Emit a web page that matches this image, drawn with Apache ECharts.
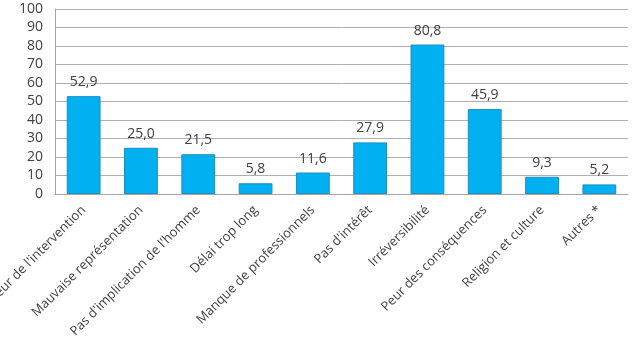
<!DOCTYPE html>
<html lang="fr">
<head>
<meta charset="UTF-8">
<title>Chart</title>
<style>
  * { margin: 0; }
  html, body, #chart { width: 641px; height: 340px; background: #fff; }
</style>
</head>
<body>
<div id="chart"></div>
<script src="https://cdn.jsdelivr.net/npm/echarts@6/dist/echarts.min.js"></script>
<script>
var categories = ["Peur de l'intervention", "Mauvaise représentation", "Pas d'implication de l'homme",
  "Délai trop long", "Manque de professionnels", "Pas d'intérêt", "Irréversibilité",
  "Peur des conséquences", "Religion et culture", "Autres *"];
var values = [52.9, 25.0, 21.5, 5.8, 11.6, 27.9, 80.8, 45.9, 9.3, 5.2];

var chart = echarts.init(document.getElementById('chart'));
var font = 'Open Sans';
var option = {
  animation: false,
  grid: { left: 55, right: 13, top: 9, bottom: 146, containLabel: false, outerBoundsMode: 'none' },
  xAxis: {
    type: 'category',
    data: categories,
    axisLine: { lineStyle: { color: '#a6a6a6' } },
    axisTick: { show: false },
    axisLabel: { interval: 0, rotate: 45, margin: 14, color: '#404040', fontFamily: font, fontSize: 13 }
  },
  yAxis: {
    type: 'value',
    min: 0, max: 100, interval: 10,
    axisLine: { show: true, lineStyle: { color: '#a6a6a6' } },
    axisTick: { show: false },
    splitLine: { lineStyle: { color: '#b0b0b0' } },
    axisLabel: { color: '#404040', fontFamily: font, fontSize: 14, margin: 12 }
  },
  series: [{
    type: 'bar',
    data: values,
    barWidth: '59%',
    itemStyle: { color: '#00b0f0', borderColor: '#1a8fc4', borderWidth: 1 },
    label: {
      show: true, position: 'top', distance: 7,
      color: '#404040', fontFamily: font, fontSize: 14,
      formatter: function (p) { return p.value.toFixed(1).replace('.', ','); }
    }
  }]
};
chart.setOption(option);
</script>
</body>
</html>
